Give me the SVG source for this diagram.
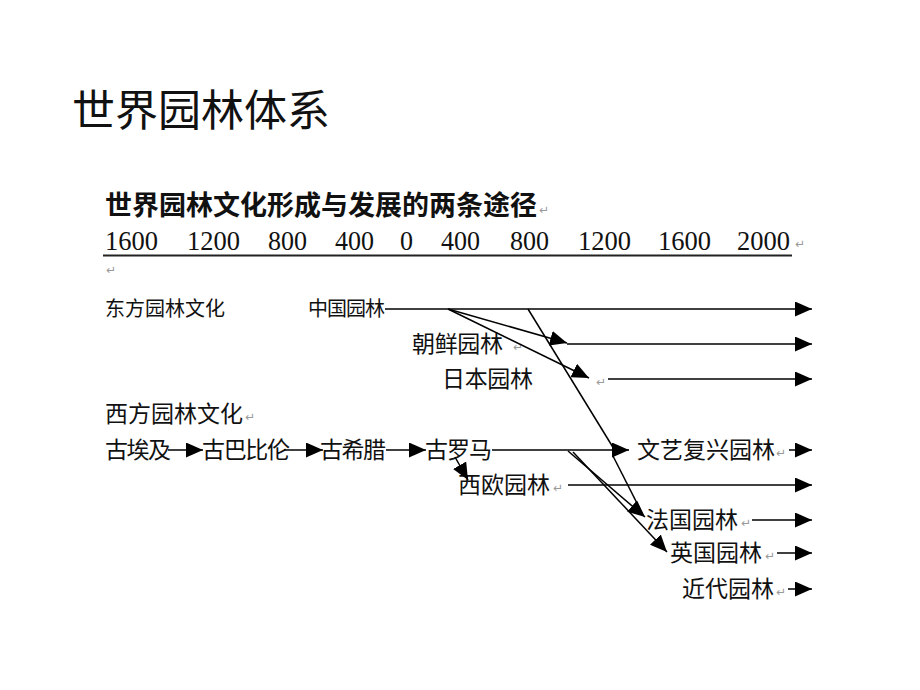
<svg xmlns="http://www.w3.org/2000/svg" width="920" height="690" viewBox="0 0 920 690">
<defs>
<marker id="ah" markerUnits="userSpaceOnUse" markerWidth="17" markerHeight="15" refX="17" refY="7.5" orient="auto"><path d="M0,0 L17,7.5 L0,15 Z" fill="#000"/></marker>
<style>
.cjk{font-family:"Noto Sans CJK SC","Noto Sans",sans-serif;fill:#111}
.h1{font-size:43px}
.sub{font-size:27px;font-weight:bold}
.num{font-family:"Liberation Serif",serif;font-size:28px;fill:#111}
.lb{font-size:23px}
.ls{font-size:20px}
.pm{font-family:"DejaVu Sans",sans-serif;font-size:12px;fill:#999}
.c line,.c path{stroke:#000;stroke-width:1.5;fill:none}
</style>
</defs>
<rect width="920" height="690" fill="#fff"/>
<text class="cjk h1" x="72" y="126" textLength="258" lengthAdjust="spacing">世界园林体系</text>
<g id="subtitle"><text class="cjk sub" x="105" y="215" textLength="432" lengthAdjust="spacing">世界园林文化形成与发展的两条途径</text><text class="pm" x="539" y="214">↵</text></g>
<g id="axis">
<text class="num" x="105" y="250" textLength="53" lengthAdjust="spacingAndGlyphs">1600</text>
<text class="num" x="187" y="250" textLength="53" lengthAdjust="spacingAndGlyphs">1200</text>
<text class="num" x="268" y="250" textLength="39" lengthAdjust="spacingAndGlyphs">800</text>
<text class="num" x="335" y="250" textLength="39" lengthAdjust="spacingAndGlyphs">400</text>
<text class="num" x="400" y="250" textLength="13" lengthAdjust="spacingAndGlyphs">0</text>
<text class="num" x="441" y="250" textLength="39" lengthAdjust="spacingAndGlyphs">400</text>
<text class="num" x="510" y="250" textLength="39" lengthAdjust="spacingAndGlyphs">800</text>
<text class="num" x="578" y="250" textLength="53" lengthAdjust="spacingAndGlyphs">1200</text>
<text class="num" x="658" y="250" textLength="53" lengthAdjust="spacingAndGlyphs">1600</text>
<text class="num" x="737" y="250" textLength="53" lengthAdjust="spacingAndGlyphs">2000</text>
<text class="pm" x="795" y="248">↵</text>
<line x1="103" y1="255.5" x2="792" y2="255.5" stroke="#222" stroke-width="2"/>
<text class="pm" x="106" y="274">↵</text>
</g>
<g id="east"><text class="cjk ls" x="105" y="316" textLength="120" lengthAdjust="spacing">东方园林文化</text></g>
<g id="china"><text class="cjk ls" x="308" y="316" textLength="77" lengthAdjust="spacing">中国园林</text></g>
<g id="korea"><text class="cjk lb" x="412" y="352" textLength="91" lengthAdjust="spacing">朝鲜园林</text><text class="pm" x="513" y="351">↵</text></g>
<g id="japan"><text class="cjk lb" x="442" y="387" textLength="91" lengthAdjust="spacing">日本园林</text><text class="pm" x="596" y="386">↵</text></g>
<g id="west"><text class="cjk lb" x="105" y="422" textLength="138" lengthAdjust="spacing">西方园林文化</text><text class="pm" x="245" y="421">↵</text></g>
<g id="egypt"><text class="cjk lb" x="105" y="458" textLength="66" lengthAdjust="spacing">古埃及</text></g>
<g id="babylon"><text class="cjk lb" x="202" y="458" textLength="88" lengthAdjust="spacing">古巴比伦</text></g>
<g id="greece"><text class="cjk lb" x="320" y="458" textLength="66" lengthAdjust="spacing">古希腊</text></g>
<g id="rome"><text class="cjk lb" x="425" y="458" textLength="67" lengthAdjust="spacing">古罗马</text></g>
<g id="renaissance"><text class="cjk lb" x="637" y="458" textLength="138" lengthAdjust="spacing">文艺复兴园林</text><text class="pm" x="776" y="457">↵</text></g>
<g id="westeurope"><text class="cjk lb" x="458" y="493" textLength="92" lengthAdjust="spacing">西欧园林</text><text class="pm" x="553" y="492">↵</text></g>
<g id="france"><text class="cjk lb" x="646" y="528" textLength="92" lengthAdjust="spacing">法国园林</text><text class="pm" x="741" y="527">↵</text></g>
<g id="england"><text class="cjk lb" x="670" y="561" textLength="92" lengthAdjust="spacing">英国园林</text><text class="pm" x="765" y="560">↵</text></g>
<g id="modern"><text class="cjk lb" x="682" y="597" textLength="92" lengthAdjust="spacing">近代园林</text><text class="pm" x="776" y="596">↵</text></g>
<g class="c" id="connectors">
<line x1="385" y1="309" x2="812" y2="309" marker-end="url(#ah)"/>
<line x1="448" y1="309" x2="567" y2="343" marker-end="url(#ah)"/>
<line x1="448" y1="309" x2="589" y2="378" marker-end="url(#ah)"/>
<line x1="567" y1="344" x2="812" y2="344" marker-end="url(#ah)"/>
<line x1="608" y1="379" x2="812" y2="379" marker-end="url(#ah)"/>
<line x1="528" y1="309" x2="614" y2="449"/>
<line x1="168" y1="450" x2="203" y2="450" marker-end="url(#ah)"/>
<line x1="284" y1="450" x2="323" y2="450" marker-end="url(#ah)"/>
<line x1="386" y1="450" x2="426" y2="450" marker-end="url(#ah)"/>
<line x1="492" y1="450" x2="629" y2="450" marker-end="url(#ah)"/>
<line x1="789" y1="450" x2="812" y2="450" marker-end="url(#ah)"/>
<line x1="455" y1="457" x2="468" y2="480" marker-end="url(#ah)"/>
<line x1="568" y1="485" x2="812" y2="485" marker-end="url(#ah)"/>
<line x1="613" y1="456" x2="643" y2="515"/>
<line x1="568" y1="451" x2="645" y2="517" marker-end="url(#ah)"/>
<line x1="573" y1="452" x2="667" y2="552" marker-end="url(#ah)"/>
<line x1="752" y1="520" x2="812" y2="520" marker-end="url(#ah)"/>
<line x1="777" y1="553" x2="812" y2="553" marker-end="url(#ah)"/>
<line x1="788" y1="589" x2="812" y2="589" marker-end="url(#ah)"/>
</g>
</svg>
